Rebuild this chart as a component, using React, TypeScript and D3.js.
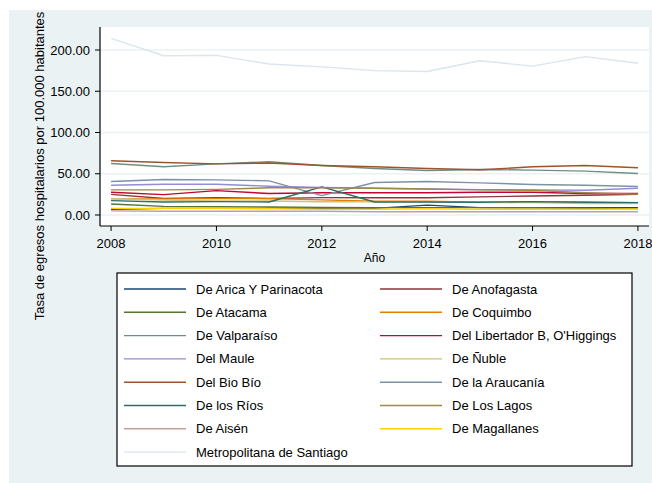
import React, { useEffect, useRef } from 'react'
import * as d3 from 'd3'

// años
const years = [2008, 2009, 2010, 2011, 2012, 2013, 2014, 2015, 2016, 2017, 2018]

// series (tasa por 100.000 hab.)
const arica = [7, 8, 8, 8, 8, 8, 12, 9, 9, 9, 9]
const anofagasta = [25, 20, 21, 20, 21, 21, 21, 22, 23, 24, 25]
const atacama = [13.4, 10.5, 10.1, 9.7, 9.3, 9, 9, 9, 8.7, 8.1, 7.7]
const coquimbo = [19.5, 19.5, 19.8, 19.9, 18.3, 16.6, 16.6, 15.4, 16.2, 15.4, 15]
const valparaiso = [62.5, 58.4, 62, 64.5, 60, 56.4, 54, 55.2, 54.4, 53.2, 50.3]
const ohiggins = [27.5, 24.7, 29.6, 26, 27, 27, 27, 27.5, 27.5, 26, 26]
const maule = [36.1, 37.3, 37.3, 34.9, 33.3, 32.5, 31.6, 30.8, 30.4, 30, 32.5]
const nuble = [20, 18, 17, 17, 16, 16, 16, 15, 15, 14, 14]
const biobio = [65.7, 63.7, 62, 63, 60, 58.4, 56.4, 54.8, 58.4, 60, 57.2]
const araucania = [40.6, 43, 42.6, 41.4, 23.5, 39.4, 40.6, 39, 36.9, 36.1, 34.5]
const losrios = [17.4, 15.8, 16.2, 15.8, 34, 15.8, 15.8, 15.4, 16.2, 15.4, 15]
const loslagos = [30.4, 30.4, 31, 33, 33, 32.5, 31.6, 30.4, 30, 27, 25.2]
const aisen = [5, 4.5, 4.5, 4.5, 4.5, 4, 4, 4, 4, 4, 4]
const magallanes = [8, 8, 8, 7.5, 7, 7, 7.5, 7, 7, 7, 7.3]
const santiago = [214, 193, 193.5, 183, 179.5, 175, 174, 187, 180.5, 192, 184]

const yTicks = [0, 50, 100, 150, 200]
const xTicks = [2008, 2010, 2012, 2014, 2016, 2018]

const series = [
  { name: 'De Arica Y Parinacota', values: arica, color: '#1a476f' },
  { name: 'De Anofagasta', values: anofagasta, color: '#90353b' },
  { name: 'De Atacama', values: atacama, color: '#55752f' },
  { name: 'De Coquimbo', values: coquimbo, color: '#e37e00' },
  { name: 'De Valparaíso', values: valparaiso, color: '#6e8e84' },
  { name: "Del Libertador B, O'Higgings", values: ohiggins, color: '#c10534' },
  { name: 'Del Maule', values: maule, color: '#938dd2' },
  { name: 'De Ñuble', values: nuble, color: '#cac27e' },
  { name: 'Del Bio Bío', values: biobio, color: '#a0522d' },
  { name: 'De la Araucanía', values: araucania, color: '#7b92a8' },
  { name: 'De los Ríos', values: losrios, color: '#2d6d66' },
  { name: 'De Los Lagos', values: loslagos, color: '#9c8847' },
  { name: 'De Aisén', values: aisen, color: '#bfa19c' },
  { name: 'De Magallanes', values: magallanes, color: '#ffd200' },
  { name: 'Metropolitana de Santiago', values: santiago, color: '#d9e6eb' },
]

export default function App() {
  const ref = useRef<SVGSVGElement>(null)

  useEffect(() => {
    const W = 652, H = 483
    const plot = { left: 100, right: 649, top: 27, bottom: 226 }
    const font = 'Arial, "Liberation Sans", sans-serif'

    const svg = d3.select(ref.current)
    svg.selectAll('*').remove()

    // fondo
    svg.append('rect').attr('x', 0).attr('y', 0).attr('width', W).attr('height', H).attr('fill', '#fff')
    svg.append('rect').attr('x', 9).attr('y', 10).attr('width', W - 9).attr('height', H - 10).attr('fill', '#eaf2f3')
    svg.append('rect')
      .attr('x', plot.left).attr('y', plot.top)
      .attr('width', plot.right - plot.left).attr('height', plot.bottom - plot.top)
      .attr('fill', '#fff')

    const x = d3.scaleLinear().domain([2007.79, 2018.21]).range([plot.left, plot.right])
    const y = d3.scaleLinear().domain([0, 200]).range([215, 50])

    // grid
    svg.append('g').selectAll('line').data(yTicks).join('line')
      .attr('x1', plot.left).attr('x2', plot.right)
      .attr('y1', d => y(d)).attr('y2', d => y(d))
      .attr('stroke', '#eaf2f3').attr('stroke-width', 1.5)

    // lines
    const line = d3.line<number>()
      .x((d, i) => x(years[i]))
      .y(d => y(d))

    svg.append('g').selectAll('path').data(series).join('path')
      .attr('d', d => line(d.values))
      .attr('fill', 'none')
      .attr('stroke', d => d.color)
      .attr('stroke-width', 1.4)
      .attr('stroke-linejoin', 'round')

    // y axis
    const yAxis = svg.append('g')
    yAxis.append('line')
      .attr('x1', plot.left).attr('x2', plot.left)
      .attr('y1', plot.top).attr('y2', plot.bottom)
      .attr('stroke', '#000').attr('stroke-width', 1.2)
    yAxis.selectAll('line.tick').data(yTicks).join('line')
      .attr('class', 'tick')
      .attr('x1', plot.left - 5).attr('x2', plot.left)
      .attr('y1', d => y(d)).attr('y2', d => y(d))
      .attr('stroke', '#000').attr('stroke-width', 1)
    yAxis.selectAll('text').data(yTicks).join('text')
      .attr('x', plot.left - 10).attr('y', d => y(d))
      .attr('dy', '0.35em')
      .attr('text-anchor', 'end')
      .attr('font-family', font).attr('font-size', 13)
      .text(d => d3.format('.2f')(d))

    // x axis
    const xAxis = svg.append('g')
    xAxis.append('line')
      .attr('x1', plot.left).attr('x2', plot.right)
      .attr('y1', plot.bottom).attr('y2', plot.bottom)
      .attr('stroke', '#000').attr('stroke-width', 1.2)
    xAxis.selectAll('line.tick').data(xTicks).join('line')
      .attr('class', 'tick')
      .attr('x1', d => x(d)).attr('x2', d => x(d))
      .attr('y1', plot.bottom).attr('y2', plot.bottom + 5)
      .attr('stroke', '#000').attr('stroke-width', 1)
    xAxis.selectAll('text').data(xTicks).join('text')
      .attr('x', d => x(d)).attr('y', 248)
      .attr('text-anchor', 'middle')
      .attr('font-family', font).attr('font-size', 13)
      .text(d => d)

    svg.append('text')
      .attr('x', (plot.left + plot.right) / 2).attr('y', 262)
      .attr('text-anchor', 'middle')
      .attr('font-family', font).attr('font-size', 12)
      .text('Año')

    // titulo eje y (centrado en el area del grafico, no del plot)
    svg.append('text')
      .attr('transform', 'translate(44, 166) rotate(-90)')
      .attr('text-anchor', 'middle')
      .attr('font-family', font).attr('font-size', 13)
      .text('Tasa de egresos hospitalarios por 100.000 habitantes')

    // legend
    const lg = svg.append('g')
    lg.append('rect')
      .attr('x', 117).attr('y', 273).attr('width', 515).attr('height', 193)
      .attr('fill', '#fff').attr('stroke', '#000').attr('stroke-width', 1.2)

    const items = lg.selectAll('g.item').data(series).join('g')
      .attr('class', 'item')
      .attr('transform', (d, i) => `translate(${i % 2 === 0 ? 124 : 380}, ${289 + Math.floor(i / 2) * 23.3})`)
    items.append('line')
      .attr('x1', 0).attr('x2', 62).attr('y1', 0).attr('y2', 0)
      .attr('stroke', d => d.color).attr('stroke-width', 1.4)
    items.append('text')
      .attr('x', 72).attr('y', 0).attr('dy', '0.35em')
      .attr('font-family', font).attr('font-size', 13)
      .text(d => d.name)
  }, [])

  return (
    <svg ref={ref} width={652} height={483} style={{ position: 'absolute', left: 0, top: 0 }} />
  )
}
